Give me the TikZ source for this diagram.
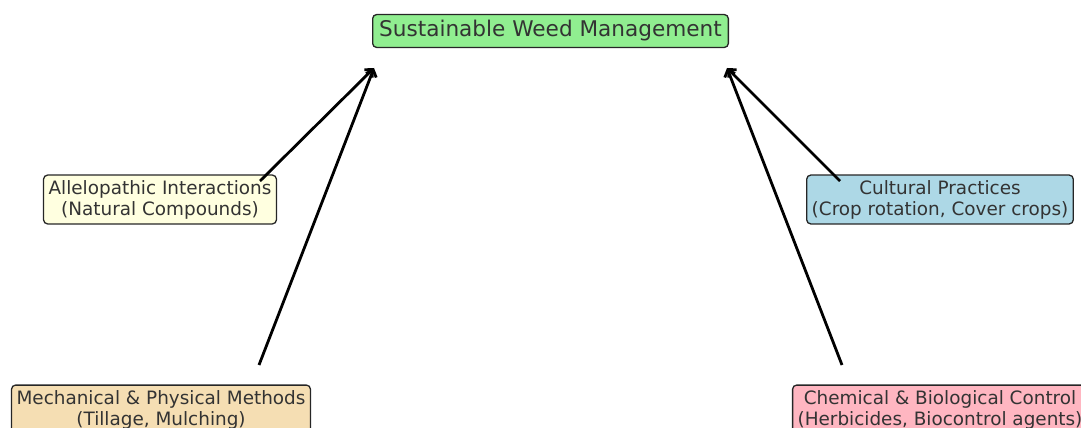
\documentclass[tikz,border=0pt]{standalone}
\usepackage{fontspec}
\setmainfont{DejaVu Sans}
\usetikzlibrary{arrows.meta}

\definecolor{textgray}{RGB}{51,51,51}
\definecolor{goalgreen}{RGB}{144,238,144}
\definecolor{alleloyellow}{RGB}{255,255,224}
\definecolor{culturalblue}{RGB}{173,216,230}
\definecolor{mechwheat}{RGB}{245,222,179}
\definecolor{chempink}{RGB}{255,182,193}

\begin{document}
\begin{tikzpicture}[x=1pt,y=-1pt]
\useasboundingbox (0,0) rectangle (1081,428);

\begin{scope}[every node/.style={draw=black!85,line width=1.3pt,rounded corners=4pt,
              text=textgray,align=center,inner xsep=5pt,inner ysep=5pt,
              font=\fontsize{18.4}{21}\selectfont}]
    \node[fill=goalgreen,inner xsep=6.5pt,inner ysep=6pt,
          font=\fontsize{21.6}{25}\selectfont] (Goal) at (550.5,31) {Sustainable Weed Management};
    \node[fill=alleloyellow] (Allelo) at (160,199.5) {Allelopathic Interactions\\(Natural Compounds)};
    \node[fill=culturalblue] (Cultural) at (940,199.5) {Cultural Practices\\(Crop rotation, Cover crops)};
    \node[fill=mechwheat] (Mechanical) at (161,409.5) {Mechanical \& Physical Methods\\(Tillage, Mulching)};
    \node[fill=chempink] (Chemical) at (940,409.5) {Chemical \& Biological Control\\(Herbicides, Biocontrol agents)};
\end{scope}

% arrow ends
\coordinate (GoalLeft) at (374,68);
\coordinate (GoalRight) at (727,68);
\coordinate (AlleloTail) at (260,181);
\coordinate (CulturalTail) at (840,181);
\coordinate (MechanicalTail) at (259,365);
\coordinate (ChemicalTail) at (842,365);

\begin{scope}[>={Straight Barb[length=6pt,width=11pt]},
              every edge/.style={draw=black,line width=2.8pt}]
    \path [->] (AlleloTail) edge (GoalLeft);
    \path [->] (MechanicalTail) edge (GoalLeft);
    \path [->] (CulturalTail) edge (GoalRight);
    \path [->] (ChemicalTail) edge (GoalRight);
\end{scope}
\end{tikzpicture}
\end{document}
